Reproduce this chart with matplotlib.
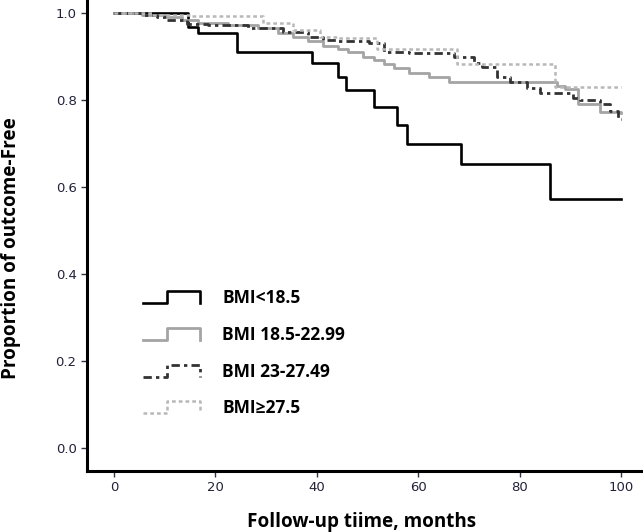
import matplotlib.pyplot as plt
from matplotlib.legend_handler import HandlerLine2D
from matplotlib.lines import Line2D

# Kaplan-Meier step data (months, proportion outcome-free)
t_low = [0, 14.6, 16.6, 24.3, 39.1, 44.2, 45.7, 51.3, 55.8, 57.7, 68.5, 86.0, 100]
s_low = [1, 0.968, 0.954, 0.91, 0.885, 0.853, 0.823, 0.784, 0.742, 0.699, 0.653, 0.572, 0.572]

t_norm = [0, 5.6, 10.5, 13.5, 16.5, 22.4, 28.4, 32.3, 35.3, 38.3, 41.3, 44.2, 46.2, 49.2,
          51.2, 53.2, 55.2, 58.1, 62.1, 66.1, 87.4, 88.9, 91.4, 95.8, 100]
s_norm = [1, 0.995, 0.99, 0.983, 0.977, 0.972, 0.965, 0.955, 0.945, 0.935, 0.925, 0.918,
          0.91, 0.9, 0.892, 0.882, 0.873, 0.862, 0.853, 0.842, 0.832, 0.825, 0.79, 0.773, 0.77]

t_over = [0, 5.6, 8.5, 10.5, 14.5, 18.5, 26.4, 33.3, 38.3, 41.3, 44.2, 50.2, 53.2, 58.1,
          67.1, 71, 72.5, 75.5, 78, 81.4, 83.9, 90.5, 91.9, 95.8, 97.8, 99.3, 100]
s_over = [1, 0.995, 0.99, 0.985, 0.975, 0.972, 0.965, 0.957, 0.945, 0.938, 0.935, 0.93,
          0.91, 0.908, 0.9, 0.885, 0.876, 0.853, 0.842, 0.827, 0.816, 0.805, 0.8, 0.79,
          0.775, 0.757, 0.757]

t_obese = [0, 7.5, 15, 29.4, 35.3, 40.7, 44.2, 51.9, 67.7, 86.9, 100]
s_obese = [1, 0.995, 0.993, 0.977, 0.96, 0.945, 0.942, 0.917, 0.882, 0.83, 0.83]

labels = ['BMI<18.5', 'BMI 18.5-22.99', 'BMI 23-27.49', 'BMI≥27.5']
x_ticks = [0, 20, 40, 60, 80, 100]
y_ticks = [0.0, 0.2, 0.4, 0.6, 0.8, 1.0]


class StepHandler(HandlerLine2D):
    # legend key drawn as a small step, like the SPSS output
    def create_artists(self, legend, orig_handle, xdescent, ydescent,
                       width, height, fontsize, trans):
        x0, y0 = -xdescent, -ydescent
        xs = [x0, x0 + 0.42 * width, x0 + 0.42 * width, x0 + width, x0 + width]
        ys = [y0, y0, y0 + height, y0 + height, y0]
        line = Line2D(xs, ys)
        self.update_prop(line, orig_handle, legend)
        line.set_transform(trans)
        return [line]


fig = plt.figure(figsize=(6.43, 5.32), dpi=100)
ax = fig.add_axes([0.1353, 0.1147, 0.8647, 0.8853])

l1, = ax.step(t_low, s_low, where='post', c='black', lw=1.9)
l2, = ax.step(t_norm, s_norm, where='post', c='#a4a4a4', lw=2.0)
l3, = ax.step(t_over, s_over, where='post', c='#333333', lw=2.0,
              dashes=(3, 1.5, 1.2, 1.5))
l4, = ax.step(t_obese, s_obese, where='post', c='#b8b8b8', lw=1.8,
              dashes=(1.5, 1.2))

ax.set_xlim(-5.3, 104.3)
ax.set_ylim(-0.053, 1.03)
ax.set_xticks(x_ticks)
ax.set_yticks(y_ticks)
ax.set_xticklabels([str(v) for v in x_ticks])
ax.set_yticklabels(['%.1f' % v for v in y_ticks])

for side in ['top', 'right']:
    ax.spines[side].set_visible(False)
for side in ['left', 'bottom']:
    ax.spines[side].set_linewidth(2.2)
ax.tick_params(axis='both', which='major', labelsize=9.5, length=4, width=1,
               colors='#333344', labelcolor='#22223a')

ax.set_xlabel('Follow-up tiime, months', fontsize=13.6, fontweight='bold',
              family='Open Sans', va='top')
ax.set_ylabel('Proportion of outcome-Free', fontsize=13.6, fontweight='bold',
              family='Open Sans')
ax.xaxis.set_label_coords(0.493, -0.088)
ax.yaxis.set_label_coords(-0.119, 0.473)

leg = ax.legend([l1, l2, l3, l4], labels, loc='upper left',
                bbox_to_anchor=(0.1007, 0.386), frameon=False,
                borderpad=0, borderaxespad=0,
                handler_map={Line2D: StepHandler()},
                handlelength=3.3, handletextpad=1.26, labelspacing=1.08,
                prop={'family': 'Open Sans', 'weight': 'bold', 'size': 12.5})

fig.savefig('out.png', dpi=100)
